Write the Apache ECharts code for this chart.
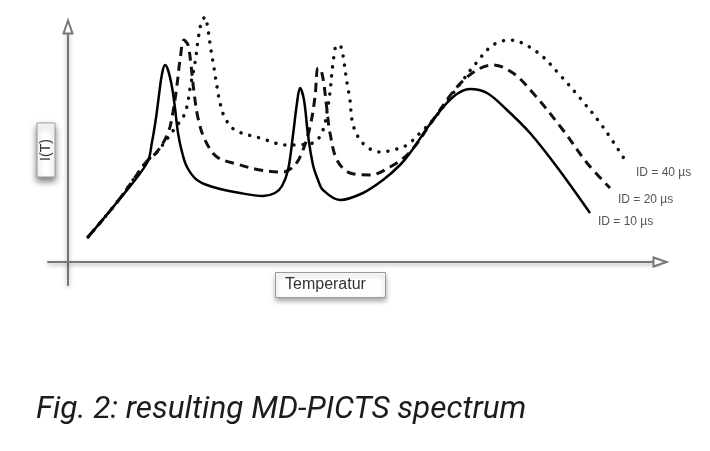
<!DOCTYPE html>
<html>
<head>
<meta charset="utf-8">
<script src="https://cdn.jsdelivr.net/npm/echarts@6/dist/echarts.min.js"></script>
<style>
html,body{margin:0;padding:0;background:#fff;}
#chart{width:710px;height:451px;}
</style>
</head>
<body>
<div id="chart"></div>
<script>
// Temperature (arbitrary units) vs I(T) (arbitrary units)
var solidData = [[20,25],[50,61],[79,99],[84,120],[88,144],[91,167],[94,188],[97,197],[100,192],[104,175],[107,154],[110,129],[114,110],[119,95],[129,82],[145,75],[172,69],[195,66],[207,69],[214,76],[220,92],[225,127],[229,159],[232,174],[236,162],[240,127],[245,97],[250,82],[255,72],[272,62],[295,69],[315,82],[332,97],[342,109],[365,142],[385,165],[402,173],[419,169],[439,152],[462,129],[489,95],[522,49]];
var dashedData = [[20,25],[50,61],[79,101],[89,110],[100,129],[105,150],[109,177],[112,202],[116,222],[120,217],[123,197],[126,170],[130,144],[137,122],[149,105],[169,98],[192,92],[215,90],[227,97],[235,112],[242,135],[247,165],[250,194],[253,192],[256,177],[259,152],[262,129],[269,102],[282,89],[302,87],[322,95],[342,110],[365,142],[389,175],[409,192],[425,197],[445,189],[465,169],[495,132],[519,99],[542,74]];
var dottedData = [[20,25],[50,61],[79,101],[89,110],[107,134],[117,149],[123,179],[127,199],[130,222],[133,238],[137,245],[140,232],[143,212],[146,194],[149,175],[152,159],[157,144],[167,132],[192,124],[219,117],[245,119],[255,132],[259,150],[262,170],[265,199],[269,217],[273,215],[276,200],[279,179],[282,162],[284,142],[289,127],[299,115],[312,110],[325,112],[339,117],[352,129],[365,142],[389,174],[409,200],[425,217],[442,222],[469,210],[492,187],[512,164],[535,135],[557,102]];
var seriesNames = ['ID = 10 \u00b5s', 'ID = 20 \u00b5s', 'ID = 40 \u00b5s'];
var xAxisName = 'Temperatur';
var yAxisName = 'I(T)';
var caption = 'Fig. 2: resulting MD-PICTS spectrum';

var chart = echarts.init(document.getElementById('chart'), null, {renderer: 'canvas'});
var axisLineStyle = {color: '#767676', width: 2, shadowBlur: 4, shadowColor: 'rgba(0,0,0,0.35)', shadowOffsetY: 2};
var narrowFont = '"Liberation Sans Narrow", "Liberation Sans", Arial, sans-serif';
var labelFont = {fontFamily: narrowFont, fontSize: 12, color: '#555'};
chart.setOption({
  animation: false,
  backgroundColor: '#fff',
  title: [
    {
      text: xAxisName, left: 275, top: 272,
      padding: [5, 20, 5, 10],
      borderColor: '#9a9a9a', borderWidth: 1, backgroundColor: '#fff',
      shadowBlur: 5, shadowColor: 'rgba(0,0,0,0.35)', shadowOffsetY: 3,
      textStyle: {fontFamily: narrowFont, fontSize: 16, fontWeight: 'normal', color: '#333'}
    },
    {
      text: caption, left: 36, top: 394, padding: 0,
      textStyle: {fontFamily: 'Roboto, "Noto Sans", sans-serif', fontSize: 31.5, fontStyle: 'italic', fontWeight: 'normal', color: '#1c1c1c'}
    }
  ],
  graphic: [
    {
      type: 'group', x: 46, y: 150, rotation: Math.PI / 2, z: 10,
      children: [
        {type: 'rect', shape: {x: -27, y: -9, width: 54, height: 18},
         style: {fill: '#fff', stroke: '#9a9a9a', lineWidth: 1, shadowBlur: 6, shadowColor: 'rgba(0,0,0,0.5)', shadowOffsetY: 4}},
        {type: 'text', x: 0, y: 0,
         style: {text: yAxisName, fill: '#333', font: '14px ' + narrowFont, textAlign: 'center', textVerticalAlign: 'middle', align: 'center', verticalAlign: 'middle'}}
      ]
    }
  ],
  grid: {left: 48, right: 50, top: 27, bottom: 166, containLabel: false},
  xAxis: {
    type: 'value', min: -20, max: 592,
    axisLine: {onZero: true, symbol: ['none', 'emptyTriangle'], symbolSize: [9, 13], lineStyle: axisLineStyle},
    axisTick: {show: false}, axisLabel: {show: false}, splitLine: {show: false}
  },
  yAxis: {
    type: 'value', min: -23, max: 235,
    axisLine: {onZero: true, symbol: ['none', 'emptyTriangle'], symbolSize: [9, 13], lineStyle: axisLineStyle},
    axisTick: {show: false}, axisLabel: {show: false}, splitLine: {show: false}
  },
  series: [
    {
      name: seriesNames[2], type: 'line', data: dottedData, smooth: 0.35, symbol: 'none', z: 2, clip: false,
      lineStyle: {color: '#111', width: 3.5, type: [0.1, 9], cap: 'round'},
      endLabel: Object.assign({show: true, formatter: '{a}', offset: [3, 13]}, labelFont)
    },
    {
      name: seriesNames[1], type: 'line', data: dashedData, smooth: 0.35, symbol: 'none', z: 3, clip: false,
      lineStyle: {color: '#111', width: 3, type: [9, 6]},
      endLabel: Object.assign({show: true, formatter: '{a}', offset: [0, 12]}, labelFont)
    },
    {
      name: seriesNames[0], type: 'line', data: solidData, smooth: 0.35, symbol: 'none', z: 4, clip: false,
      lineStyle: {color: '#000', width: 2.5},
      endLabel: Object.assign({show: true, formatter: '{a}', offset: [0, 9]}, labelFont)
    }
  ]
});
</script>
</body>
</html>
